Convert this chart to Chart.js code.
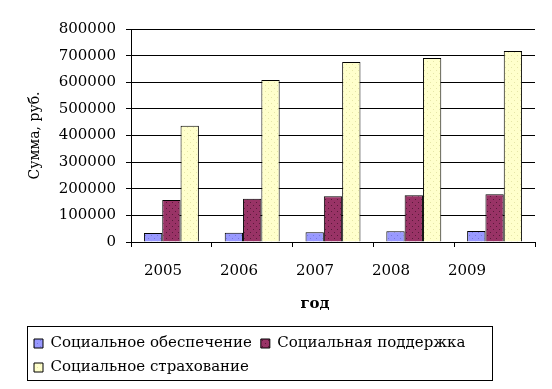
<!DOCTYPE html>
<html>
<head>
<meta charset="utf-8">
<script src="https://cdn.jsdelivr.net/npm/chart.js@4/dist/chart.umd.min.js"></script>
<style>
html,body{margin:0;padding:0;background:#fff;}
canvas{display:block;}
</style>
</head>
<body>
<canvas id="c" width="552" height="389"></canvas>
<script>
const categories = ['2005', '2006', '2007', '2008', '2009'];
const seriesNames = ['Социальное обеспечение', 'Социальная поддержка', 'Социальное страхование'];
const obespechenie = [34000, 35000, 37000, 40000, 41000];
const podderzhka = [158000, 162000, 172000, 176000, 179000];
const strakhovanie = [437000, 608000, 676000, 691000, 717000];
const yTickLabels = ['0', '100000', '200000', '300000', '400000', '500000', '600000', '700000', '800000'];
const yTitle = 'Сумма, руб.';
const xTitle = 'год';

function dotted(base, dot) {
  const t = document.createElement('canvas');
  t.width = 6; t.height = 6;
  const g = t.getContext('2d');
  g.fillStyle = base; g.fillRect(0, 0, 6, 6);
  g.fillStyle = dot;
  g.fillRect(1, 1, 1, 1);
  g.fillRect(4, 4, 1, 1);
  return g.createPattern(t, 'repeat');
}
const ctx = document.getElementById('c').getContext('2d');
const fills = [dotted('#9999FF', '#7777dd'), dotted('#993366', '#5a1a3a'), dotted('#FFFFCC', '#e6e6a8')];
const FONT = 'DejaVu Serif';

const bgPlugin = {
  id: 'bg',
  beforeDraw(chart) {
    const c = chart.ctx;
    c.save(); c.fillStyle = '#fff'; c.fillRect(0, 0, chart.width, chart.height); c.restore();
  }
};
const labelAxisPlugin = {
  id: 'labelAxis',
  afterLayout(chart) {
    const s = chart.scales.xl;
    const a = chart.chartArea;
    s.left = a.left - 6;
    s.right = a.left + 374;
    s.width = s.right - s.left;
    s.configure();
  }
};
const legendBoxPlugin = {
  id: 'legendBox',
  afterDraw(chart) {
    const L = chart.legend;
    const c = chart.ctx;
    c.save();
    c.strokeStyle = '#000';
    c.lineWidth = 1;
    c.strokeRect(L.left + 2.5, L.top - 0.5, 465, 54);
    c.restore();
  }
};

new Chart(ctx, {
  type: 'bar',
  data: {
    labels: categories,
    datasets: [
      { label: seriesNames[0], data: obespechenie, backgroundColor: fills[0], borderColor: '#000', borderWidth: 1, xAxisID: 'x', yAxisID: 'y' },
      { label: seriesNames[1], data: podderzhka, backgroundColor: fills[1], borderColor: '#000', borderWidth: 1, xAxisID: 'x', yAxisID: 'y' },
      { label: seriesNames[2], data: strakhovanie, backgroundColor: fills[2], borderColor: '#000', borderWidth: 1, xAxisID: 'x', yAxisID: 'y' }
    ]
  },
  options: {
    responsive: false,
    animation: false,
    events: [],
    datasets: { bar: { categoryPercentage: 0.68, barPercentage: 1.0 } },
    layout: { padding: { left: 25, right: 17, top: 29, bottom: 4 } },
    scales: {
      y: {
        min: 0, max: 800000,
        ticks: {
          stepSize: 100000,
          padding: 10,
          color: '#000',
          font: { family: FONT, size: 15 },
          callback: (v, i) => yTickLabels[i]
        },
        grid: { color: '#000', lineWidth: 1, tickLength: 5, drawTicks: true },
        border: { color: '#000', width: 1 },
        title: { display: true, text: yTitle, color: '#000', font: { family: FONT, size: 14 }, padding: { top: 2, bottom: 0 } },
        afterFit: s => { s.width = 106; }
      },
      x: {
        type: 'category',
        position: 'bottom',
        offset: true,
        ticks: { display: false },
        grid: { offset: true, drawOnChartArea: false, color: '#000', tickLength: 5 },
        border: { color: '#000', width: 1 },
        afterFit: s => { s.height = 5; }
      },
      xl: {
        type: 'category',
        position: 'bottom',
        labels: categories,
        offset: true,
        ticks: { color: '#000', padding: 15, font: { family: FONT, size: 15 }, maxRotation: 0, autoSkip: false },
        grid: { display: false, drawTicks: false },
        border: { display: false },
        title: { display: true, text: xTitle, color: '#000', font: { family: FONT, size: 15, weight: 'bold' }, padding: { top: 0, bottom: 14 } },
        afterFit: s => { s.height = 80; }
      }
    },
    plugins: {
      legend: {
        position: 'bottom',
        align: 'start',
        labels: {
          color: '#000',
          font: { family: FONT, size: 15 },
          boxWidth: 9,
          boxHeight: 9,
          padding: 9
        }
      },
      tooltip: { enabled: false }
    }
  },
  plugins: [bgPlugin, labelAxisPlugin, legendBoxPlugin]
});
</script>
</body>
</html>
